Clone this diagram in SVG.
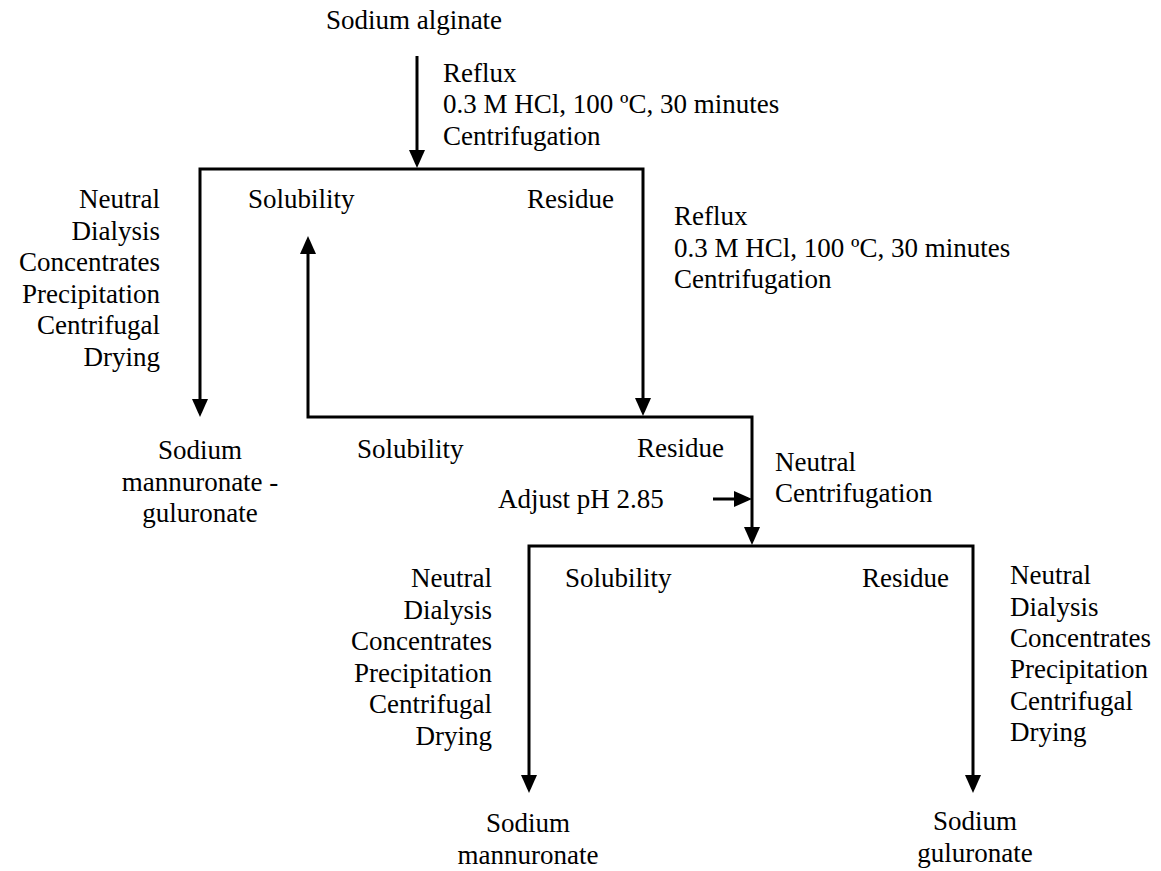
<svg xmlns="http://www.w3.org/2000/svg" width="1161" height="871" viewBox="0 0 1161 871">
  <style>
    .lbl text { font-size: 27px; fill: #000; }
    .r { text-anchor: end; }
    .c { text-anchor: middle; }
    .flow { fill: none; stroke: #000; stroke-width: 3; stroke-linejoin: miter; }
  </style>
  <defs>
    <marker id="head" markerUnits="userSpaceOnUse" markerWidth="18" markerHeight="16" viewBox="0 0 18 16" refX="14" refY="8" orient="auto-start-reverse">
      <path d="M0,0 L18,8 L0,16 Z" fill="#000"/>
    </marker>
  </defs>

  <rect width="1161" height="871" fill="#fff"/>

  <!-- connectors -->
  <g id="connectors">
    <path class="flow" d="M417,56 V164" marker-end="url(#head)"/>
    <path class="flow" d="M200,413 V169 H643 V412" marker-start="url(#head)" marker-end="url(#head)"/>
    <path class="flow" d="M308,240 V417 H752 V541" marker-start="url(#head)" marker-end="url(#head)"/>
    <path class="flow" d="M713,499 H748" marker-end="url(#head)"/>
    <path class="flow" d="M529,789 V546 H973 V789" marker-start="url(#head)" marker-end="url(#head)"/>
  </g>

  <g class="lbl" font-family="'Liberation Serif', 'Times New Roman', Times, serif">
    <!-- start material -->
    <g id="start">
      <text class="c" x="414" y="29">Sodium alginate</text>
    </g>

    <!-- first acid hydrolysis -->
    <g id="step1">
      <text x="443" y="82">Reflux</text>
      <text x="443" y="113">0.3 M HCl, 100 ºC, 30 minutes</text>
      <text x="443" y="145">Centrifugation</text>
    </g>

    <g id="split1">
      <text x="248" y="208">Solubility</text>
      <text x="527" y="208">Residue</text>
    </g>

    <!-- work-up of first soluble fraction -->
    <g id="workup1">
      <text class="r" x="160" y="208">Neutral</text>
      <text class="r" x="160" y="239.5">Dialysis</text>
      <text class="r" x="160" y="271">Concentrates</text>
      <text class="r" x="160" y="302.5">Precipitation</text>
      <text class="r" x="160" y="334">Centrifugal</text>
      <text class="r" x="160" y="365.5">Drying</text>
    </g>

    <g id="product-mg">
      <text class="c" x="200" y="459">Sodium</text>
      <text class="c" x="200" y="490.5">mannuronate -</text>
      <text class="c" x="200" y="522">guluronate</text>
    </g>

    <!-- second acid hydrolysis -->
    <g id="step2">
      <text x="674" y="225">Reflux</text>
      <text x="674" y="257">0.3 M HCl, 100 ºC, 30 minutes</text>
      <text x="674" y="288">Centrifugation</text>
    </g>

    <g id="split2">
      <text x="357" y="458">Solubility</text>
      <text x="637" y="457">Residue</text>
    </g>

    <g id="ph-adjust">
      <text x="498" y="508">Adjust pH 2.85</text>
    </g>

    <g id="step3">
      <text x="775" y="471">Neutral</text>
      <text x="775" y="502">Centrifugation</text>
    </g>

    <g id="split3">
      <text x="565" y="587">Solubility</text>
      <text x="862" y="587">Residue</text>
    </g>

    <!-- work-up of soluble fraction -->
    <g id="workup-m">
      <text class="r" x="492" y="587">Neutral</text>
      <text class="r" x="492" y="618.5">Dialysis</text>
      <text class="r" x="492" y="650">Concentrates</text>
      <text class="r" x="492" y="681.5">Precipitation</text>
      <text class="r" x="492" y="713">Centrifugal</text>
      <text class="r" x="492" y="744.5">Drying</text>
    </g>

    <!-- work-up of residue -->
    <g id="workup-g">
      <text x="1010" y="584">Neutral</text>
      <text x="1010" y="615.5">Dialysis</text>
      <text x="1010" y="647">Concentrates</text>
      <text x="1010" y="678">Precipitation</text>
      <text x="1010" y="709.5">Centrifugal</text>
      <text x="1010" y="741">Drying</text>
    </g>

    <g id="product-m">
      <text class="c" x="528" y="832">Sodium</text>
      <text class="c" x="528" y="864">mannuronate</text>
    </g>

    <g id="product-g">
      <text class="c" x="975" y="830">Sodium</text>
      <text class="c" x="975" y="862">guluronate</text>
    </g>
  </g>
</svg>
